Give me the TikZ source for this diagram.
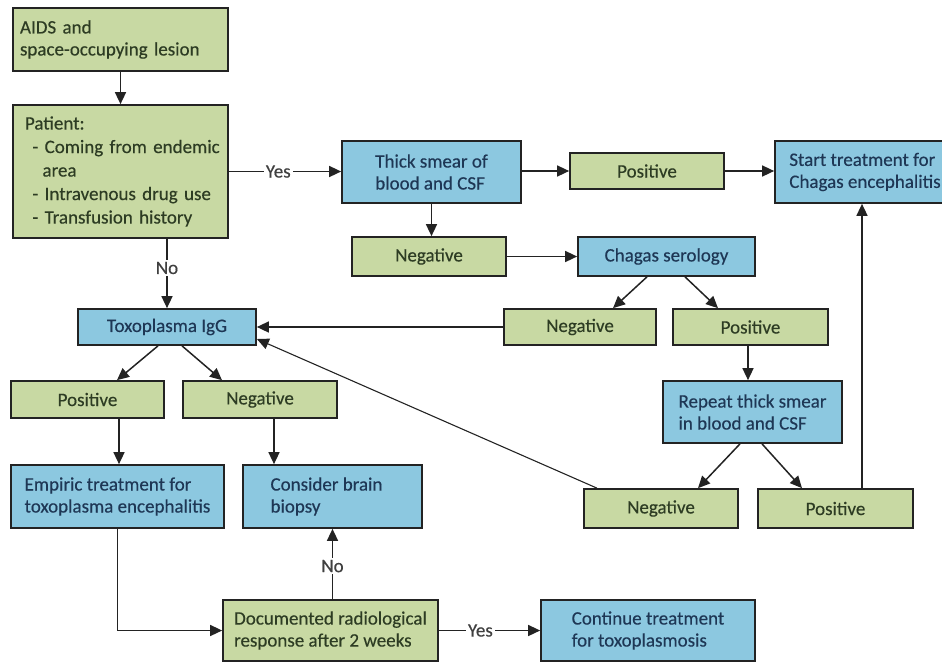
\documentclass[tikz,border=0pt]{standalone}
\usepackage{fontspec}
\setmainfont{Carlito}[UprightFeatures={FakeBold=0.35}]
\usetikzlibrary{arrows.meta}
\definecolor{gfill}{RGB}{200,217,163}
\definecolor{bfill}{RGB}{140,200,224}
\definecolor{gtext}{RGB}{45,60,35}
\definecolor{btext}{RGB}{30,55,85}
\definecolor{edgec}{RGB}{35,35,35}
\begin{document}
\begin{tikzpicture}[x=1pt,y=-1pt,
  box/.style={draw=edgec, line width=1.7pt, inner ysep=0pt, font=\fontsize{19}{22}\selectfont},
  gbox/.style={box, fill=gfill, text=gtext},
  bbox/.style={box, fill=bfill, text=btext},
  cbox/.style 2 args={minimum width=#1, minimum height=#2, align=left},
  lbox/.style n args={3}{minimum height=#1, text width=#2, inner xsep=#3, align=left},
  arr/.style={-{Triangle[length=12pt,width=11pt]}, line width=1.5pt, draw=edgec},
  lab/.style={fill=white, text=black!75, font=\fontsize{19}{20}\selectfont, inner sep=2pt},
]
\useasboundingbox (0,0) rectangle (942,662);

\node[gbox, lbox={63}{201pt}{7pt}] (aids) at (120.5,39.5) {AIDS and\\space-occupying lesion};
\node[gbox, lbox={133}{200pt}{7.5pt}, font=\fontsize{19}{23.5}\selectfont] (pat) at (120.5,171.5)
  {\hspace*{4.5pt}Patient:\\\hspace*{12pt}- Coming from endemic\\\hspace*{22pt}area\\\hspace*{12pt}- Intravenous drug use\\\hspace*{12pt}- Transfusion history};
\node[bbox, cbox={179}{62}] (thick) at (431.5,172) {Thick smear of\\blood and CSF};
\node[gbox, cbox={154}{36}] (pos1) at (647,171) {Positive};
\node[bbox, cbox={180}{62}] (start) at (865,172) {Start treatment for\\Chagas encephalitis};
\node[gbox, cbox={154}{39}] (neg1) at (429,256.5) {Negative};
\node[bbox, cbox={177}{39}] (sero) at (666.5,256.5) {Chagas serology};
\node[gbox, cbox={152}{36}] (neg2) at (580,327) {Negative};
\node[gbox, cbox={155}{36}] (pos2) at (750.5,327) {Positive};
\node[bbox, cbox={178}{36}] (toxo) at (167,327) {Toxoplasma IgG};
\node[gbox, cbox={153}{37}] (pos3) at (87.5,399.5) {Positive};
\node[gbox, cbox={154}{37}] (neg3) at (260,399.5) {Negative};
\node[bbox, cbox={213}{63}] (emp) at (117.5,496.5) {Empiric treatment for\\toxoplasma encephalitis};
\node[bbox, cbox={179}{63}] (cons) at (332.5,496.5) {Consider brain\hspace*{12pt}\\biopsy};
\node[bbox, cbox={179}{62}] (rep) at (752.5,412) {Repeat thick smear\\in blood and CSF};
\node[gbox, cbox={154}{39}] (neg4) at (661,508.5) {Negative};
\node[gbox, cbox={155}{39}] (pos4) at (835.5,508.5) {Positive};
\node[gbox, cbox={215}{61}] (doc) at (330.5,630.5) {Documented radiological\\response after 2 weeks};
\node[bbox, cbox={214}{61}] (cont) at (648,630.5) {Continue treatment\\for toxoplasmosis};

\draw[arr] (aids.south) -- (pat.north);
\draw[arr] (pat.east) -- node[lab, pos=0.44] {Yes} (pat.east -| thick.west);
\draw[arr] (toxo.north |- pat.south) -- node[lab, pos=0.42] {No} (toxo.north);
\draw[arr] (thick.south) -- (thick.south |- neg1.north);
\draw[arr] (thick.east |- pos1.west) -- (pos1.west);
\draw[arr] (pos1.east) -- (pos1.east -| start.west);
\draw[arr] (neg1.east) -- (neg1.east -| sero.west);
\draw[arr] ([xshift=-19.5pt]sero.south) -- ([xshift=33pt]neg2.north);
\draw[arr] ([xshift=18.5pt]sero.south) -- ([xshift=-32.5pt]pos2.north);
\draw[arr] (neg2.west) -- (neg2.west -| toxo.east);
\draw[arr] ([xshift=-2.5pt]pos2.south) -- ([xshift=-2.5pt]pos2.south |- rep.north);
\draw[arr] ([xshift=-12.5pt]rep.south) -- ([xshift=37pt]neg4.north);
\draw[arr] ([xshift=9.5pt]rep.south) -- ([xshift=-33.5pt]pos4.north);
\draw[arr] ([xshift=26.5pt]pos4.north) -- ([xshift=26.5pt]pos4.north |- start.south);
\draw[arr, line width=1.1pt] ([xshift=-64pt]neg4.north) -- ([yshift=-12pt]toxo.east);
\draw[arr] ([xshift=-9pt]toxo.south) -- ([xshift=29.5pt]pos3.north);
\draw[arr] ([xshift=15pt]toxo.south) -- ([xshift=-38pt]neg3.north);
\draw[arr] ([xshift=31.5pt]pos3.south) -- ([xshift=31.5pt]pos3.south |- emp.north);
\draw[arr] ([xshift=14pt]neg3.south) -- ([xshift=14pt]neg3.south |- cons.north);
\draw[arr] (emp.south) |- (doc.west);
\draw[arr] (doc.north -| cons.south) -- node[lab, pos=0.47] {No} (cons.south);
\draw[arr] (doc.east) -- node[lab, pos=0.41] {Yes} (doc.east -| cont.west);
\end{tikzpicture}
\end{document}
